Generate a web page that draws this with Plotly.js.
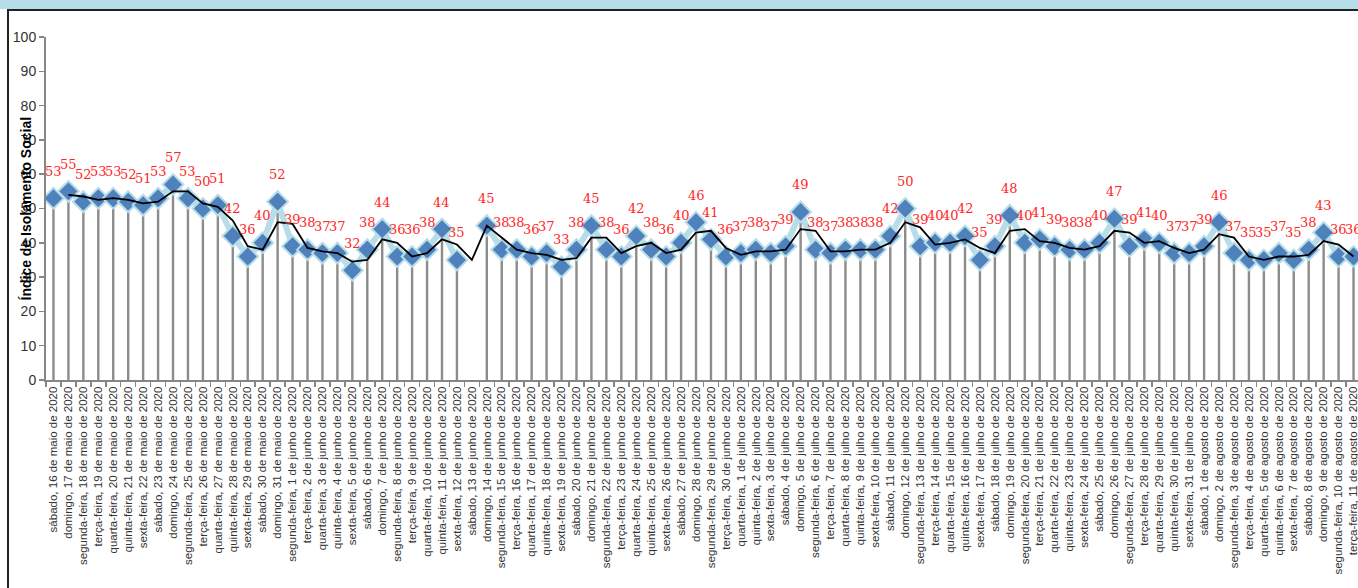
<!DOCTYPE html>
<html>
<head>
<meta charset="utf-8">
<script src="https://cdn.plot.ly/plotly-3.0.1.min.js"></script>
<style>
  html, body { margin: 0; padding: 0; background: #ffffff; }
  #wrap { position: relative; width: 1358px; height: 588px; overflow: hidden; }
  #chart { position: absolute; left: 0; top: 0; width: 1358px; height: 588px; }
  #band { position: absolute; left: 0; top: 0; width: 1358px; height: 9px; background: #b7dde8; pointer-events: none; }
  #ftop { position: absolute; left: 7px; top: 9px; width: 1351px; height: 2px; background: #222222; pointer-events: none; }
  #fleft { position: absolute; left: 7px; top: 9px; width: 2px; height: 579px; background: #222222; pointer-events: none; }
</style>
</head>
<body>
<div id="wrap">
  <div id="chart"></div>
  <div id="band"></div>
  <div id="ftop"></div>
  <div id="fleft"></div>
</div>
<script>
const dateLabels = [
  "sábado, 16 de maio de 2020","domingo, 17 de maio de 2020","segunda-feira, 18 de maio de 2020","terça-feira, 19 de maio de 2020","quarta-feira, 20 de maio de 2020","quinta-feira, 21 de maio de 2020","sexta-feira, 22 de maio de 2020","sábado, 23 de maio de 2020","domingo, 24 de maio de 2020","segunda-feira, 25 de maio de 2020","terça-feira, 26 de maio de 2020","quarta-feira, 27 de maio de 2020","quinta-feira, 28 de maio de 2020","sexta-feira, 29 de maio de 2020","sábado, 30 de maio de 2020","domingo, 31 de maio de 2020",
  "segunda-feira, 1 de junho de 2020","terça-feira, 2 de junho de 2020","quarta-feira, 3 de junho de 2020","quinta-feira, 4 de junho de 2020","sexta-feira, 5 de junho de 2020","sábado, 6 de junho de 2020","domingo, 7 de junho de 2020","segunda-feira, 8 de junho de 2020","terça-feira, 9 de junho de 2020","quarta-feira, 10 de junho de 2020","quinta-feira, 11 de junho de 2020","sexta-feira, 12 de junho de 2020","sábado, 13 de junho de 2020","domingo, 14 de junho de 2020","segunda-feira, 15 de junho de 2020","terça-feira, 16 de junho de 2020","quarta-feira, 17 de junho de 2020","quinta-feira, 18 de junho de 2020","sexta-feira, 19 de junho de 2020","sábado, 20 de junho de 2020","domingo, 21 de junho de 2020","segunda-feira, 22 de junho de 2020","terça-feira, 23 de junho de 2020","quarta-feira, 24 de junho de 2020","quinta-feira, 25 de junho de 2020","sexta-feira, 26 de junho de 2020","sábado, 27 de junho de 2020","domingo, 28 de junho de 2020","segunda-feira, 29 de junho de 2020","terça-feira, 30 de junho de 2020",
  "quarta-feira, 1 de julho de 2020","quinta-feira, 2 de julho de 2020","sexta-feira, 3 de julho de 2020","sábado, 4 de julho de 2020","domingo, 5 de julho de 2020","segunda-feira, 6 de julho de 2020","terça-feira, 7 de julho de 2020","quarta-feira, 8 de julho de 2020","quinta-feira, 9 de julho de 2020","sexta-feira, 10 de julho de 2020","sábado, 11 de julho de 2020","domingo, 12 de julho de 2020","segunda-feira, 13 de julho de 2020","terça-feira, 14 de julho de 2020","quarta-feira, 15 de julho de 2020","quinta-feira, 16 de julho de 2020","sexta-feira, 17 de julho de 2020","sábado, 18 de julho de 2020","domingo, 19 de julho de 2020","segunda-feira, 20 de julho de 2020","terça-feira, 21 de julho de 2020","quarta-feira, 22 de julho de 2020","quinta-feira, 23 de julho de 2020","sexta-feira, 24 de julho de 2020","sábado, 25 de julho de 2020","domingo, 26 de julho de 2020","segunda-feira, 27 de julho de 2020","terça-feira, 28 de julho de 2020","quarta-feira, 29 de julho de 2020","quinta-feira, 30 de julho de 2020","sexta-feira, 31 de julho de 2020",
  "sábado, 1 de agosto de 2020","domingo, 2 de agosto de 2020","segunda-feira, 3 de agosto de 2020","terça-feira, 4 de agosto de 2020","quarta-feira, 5 de agosto de 2020","quinta-feira, 6 de agosto de 2020","sexta-feira, 7 de agosto de 2020","sábado, 8 de agosto de 2020","domingo, 9 de agosto de 2020","segunda-feira, 10 de agosto de 2020","terça-feira, 11 de agosto de 2020"
];

// Índice de Isolamento Social (%), 13 de junho sem dado
const isolamento = [
  53,55,52,53,53,52,51,53,57,53,50,51,42,36,40,52,
  39,38,37,37,32,38,44,36,36,38,44,35,null,45,38,38,36,37,33,38,45,38,36,42,38,36,40,46,41,36,
  37,38,37,39,49,38,37,38,38,38,42,50,39,40,40,42,35,39,48,40,41,39,38,38,40,47,39,41,40,37,37,
  39,46,37,35,35,37,35,38,43,36,36
];

const yTickVals = [0,10,20,30,40,50,60,70,80,90,100];
const yTitle = "Índice de Isolamento Social";

// média móvel de 2 períodos (linha de tendência do gráfico original)
const mediaMovel = isolamento.map(function (v, i) {
  if (i === 0) return null;
  const pair = [isolamento[i - 1], v].filter(function (d) { return d !== null; });
  if (!pair.length) return null;
  return pair.reduce(function (a, b) { return a + b; }, 0) / pair.length;
});

const dropMinus = isolamento.map(function (v) { return v === null ? null : v; });
const dropPlus = isolamento.map(function () { return 0; });

const traces = [
  {
    type: "scatter", mode: "markers", x: dateLabels, y: isolamento,
    marker: { size: 1, opacity: 0 },
    error_y: { type: "data", symmetric: false, array: dropPlus, arrayminus: dropMinus,
               color: "#8c8c8c", thickness: 2.4, width: 0 },
    hoverinfo: "skip", showlegend: false
  },
  {
    type: "scatter", mode: "lines+markers", x: dateLabels, y: isolamento,
    connectgaps: false,
    line: { color: "#b7dde8", width: 6 },
    marker: { symbol: "diamond", size: 16, color: "#4f81bd", line: { color: "#b7dde8", width: 2 } },
    showlegend: false, name: yTitle
  },
  {
    type: "scatter", mode: "lines", x: dateLabels, y: mediaMovel,
    line: { color: "#000000", width: 1.8 },
    showlegend: false, name: "Média móvel (2 períodos)"
  }
];

const annotations = isolamento.map(function (v, i) {
  if (v === null) return null;
  return {
    x: dateLabels[i], y: v, xref: "x", yref: "y", text: String(v), showarrow: false,
    yshift: 27, font: { family: "DejaVu Serif, Liberation Serif, serif", size: 13, color: "#ff2626" }
  };
}).filter(function (a) { return a !== null; });

annotations.push({
  xref: "paper", yref: "paper", x: 0, y: 0.5, xshift: -21, xanchor: "center", yanchor: "middle",
  text: "<b>" + yTitle + "</b>", textangle: -90, showarrow: false,
  font: { family: "Liberation Sans, Arial, sans-serif", size: 14, color: "#000000" }
});

const layout = {
  width: 1358, height: 588,
  margin: { l: 46, r: 0, t: 37, b: 208, pad: 0 },
  paper_bgcolor: "#ffffff", plot_bgcolor: "#ffffff",
  showlegend: false,
  xaxis: {
    type: "category", range: [-0.5, 87.3],
    showgrid: false, zeroline: false,
    showline: true, linecolor: "#868686", linewidth: 2,
    ticks: "outside", tickson: "boundaries", ticklen: 5, tickcolor: "#868686", tickwidth: 1.5,
    tickangle: -90, automargin: false,
    tickfont: { family: "Liberation Sans, Arial, sans-serif", size: 11.5, color: "#333333" }
  },
  yaxis: {
    range: [0, 100], tickvals: yTickVals,
    showgrid: false, zeroline: false,
    showline: true, linecolor: "#868686", linewidth: 2,
    ticks: "outside", ticklen: 5, tickcolor: "#868686", tickwidth: 1.5,
    automargin: false,
    tickfont: { family: "Liberation Sans, Arial, sans-serif", size: 14, color: "#333333" }
  },
  annotations: annotations
};

Plotly.newPlot("chart", traces, layout, { displayModeBar: false, staticPlot: true });
</script>
</body>
</html>
